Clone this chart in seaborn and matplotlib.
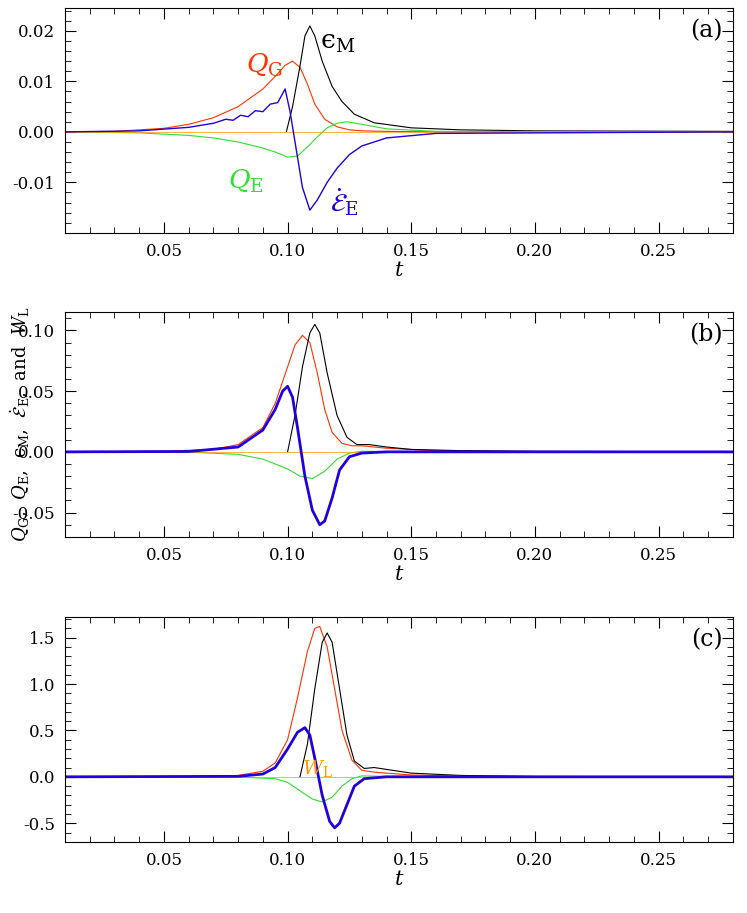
import numpy as np
import pandas as pd
import seaborn as sns
import matplotlib.pyplot as plt
from matplotlib.ticker import AutoMinorLocator

# ---- panel (a) ----
a_t_qg = [0.01, 0.03, 0.05, 0.06, 0.07, 0.08, 0.09, 0.095, 0.099, 0.102, 0.105, 0.108, 0.111, 0.115, 0.12, 0.125, 0.13, 0.14, 0.16, 0.28]
a_qg = [0, 0.0001, 0.0007, 0.0015, 0.0028, 0.005, 0.0085, 0.011, 0.0132, 0.014, 0.0128, 0.0095, 0.0055, 0.0025, 0.001, 0.0004, 0.0002, 0.0001, 0, 0]
a_t_em = [0.0995, 0.102, 0.105, 0.107, 0.109, 0.111, 0.114, 0.118, 0.122, 0.127, 0.135, 0.15, 0.17, 0.2, 0.28]
a_em = [0, 0.005, 0.013, 0.019, 0.021, 0.019, 0.014, 0.009, 0.006, 0.0035, 0.0018, 0.0008, 0.0004, 0.0002, 0.0001]
a_t_qe = [0.01, 0.04, 0.06, 0.07, 0.08, 0.09, 0.095, 0.1, 0.104, 0.108, 0.112, 0.116, 0.12, 0.124, 0.13, 0.14, 0.16, 0.28]
a_qe = [0, -0.0002, -0.0007, -0.0012, -0.002, -0.0032, -0.004, -0.005, -0.0048, -0.003, -0.001, 0.0008, 0.0017, 0.002, 0.0015, 0.0006, 0.0001, 0]
a_t_ee = [0.01, 0.04, 0.06, 0.07, 0.075, 0.078, 0.081, 0.084, 0.087, 0.09, 0.093, 0.096, 0.099, 0.101, 0.103, 0.106, 0.109, 0.112, 0.116, 0.12, 0.125, 0.13, 0.14, 0.16, 0.28]
a_ee = [0, 0.0002, 0.0009, 0.0017, 0.0025, 0.0023, 0.0033, 0.003, 0.0042, 0.004, 0.0055, 0.0058, 0.0085, 0.004, -0.002, -0.011, -0.0155, -0.0135, -0.01, -0.0072, -0.0045, -0.0028, -0.0012, -0.0003, 0]

# ---- panel (b) ----
b_t_qg = [0.01, 0.05, 0.07, 0.08, 0.09, 0.095, 0.1, 0.103, 0.106, 0.109, 0.112, 0.115, 0.118, 0.122, 0.126, 0.13, 0.135, 0.14, 0.16, 0.2, 0.28]
b_qg = [0, 0.0005, 0.002, 0.006, 0.02, 0.04, 0.07, 0.088, 0.096, 0.09, 0.065, 0.035, 0.016, 0.007, 0.005, 0.005, 0.004, 0.003, 0.001, 0.0003, 0]
b_t_em = [0.1, 0.103, 0.106, 0.109, 0.111, 0.113, 0.116, 0.12, 0.124, 0.128, 0.133, 0.14, 0.15, 0.17, 0.2, 0.28]
b_em = [0, 0.03, 0.07, 0.098, 0.105, 0.098, 0.065, 0.03, 0.012, 0.006, 0.006, 0.004, 0.002, 0.001, 0.0004, 0.0001]
b_t_qe = [0.01, 0.06, 0.08, 0.09, 0.1, 0.105, 0.11, 0.115, 0.12, 0.125, 0.13, 0.14, 0.28]
b_qe = [0, -0.0003, -0.002, -0.006, -0.014, -0.02, -0.022, -0.016, -0.006, -0.001, 0.0005, 0.0002, 0]
b_t_ee = [0.01, 0.06, 0.08, 0.09, 0.095, 0.098, 0.1, 0.102, 0.104, 0.107, 0.11, 0.113, 0.115, 0.118, 0.121, 0.125, 0.13, 0.14, 0.28]
b_ee = [0, 0.0003, 0.004, 0.018, 0.035, 0.05, 0.054, 0.045, 0.02, -0.02, -0.048, -0.06, -0.057, -0.038, -0.015, -0.004, -0.001, 0, 0]

# ---- panel (c) ----
c_t_qg = [0.01, 0.06, 0.08, 0.09, 0.095, 0.1, 0.104, 0.108, 0.111, 0.113, 0.116, 0.119, 0.122, 0.126, 0.13, 0.135, 0.14, 0.15, 0.17, 0.2, 0.28]
c_qg = [0, 0.002, 0.015, 0.06, 0.15, 0.4, 0.85, 1.35, 1.6, 1.62, 1.4, 0.95, 0.5, 0.18, 0.07, 0.05, 0.04, 0.02, 0.008, 0.002, 0]
c_t_em = [0.105, 0.108, 0.111, 0.114, 0.116, 0.118, 0.121, 0.124, 0.127, 0.131, 0.135, 0.14, 0.15, 0.17, 0.2, 0.28]
c_em = [0, 0.35, 0.95, 1.45, 1.55, 1.45, 0.95, 0.45, 0.17, 0.09, 0.1, 0.08, 0.04, 0.015, 0.004, 0]
c_t_qe = [0.01, 0.08, 0.095, 0.1, 0.105, 0.11, 0.114, 0.118, 0.122, 0.126, 0.13, 0.14, 0.28]
c_qe = [0, -0.003, -0.02, -0.06, -0.15, -0.24, -0.27, -0.22, -0.1, -0.02, 0.01, 0.005, 0]
c_t_ee = [0.01, 0.08, 0.09, 0.095, 0.1, 0.104, 0.107, 0.109, 0.111, 0.114, 0.117, 0.119, 0.121, 0.124, 0.127, 0.131, 0.14, 0.28]
c_ee = [0, 0.005, 0.03, 0.1, 0.3, 0.48, 0.53, 0.45, 0.2, -0.2, -0.48, -0.55, -0.5, -0.3, -0.1, -0.02, 0, 0]
c_t_wl = [0.01, 0.28]
c_wl = [0, 0]

RED, BLACK, GREEN, BLUE, ORANGE = "#ff3300", "black", "#33dd33", "#2200dd", "#ff9900"

plt.rcParams["font.family"] = "DejaVu Serif"
plt.rcParams["mathtext.fontset"] = "dejavuserif"
fig = plt.figure(figsize=(7.47, 9.13), dpi=100)
boxes = [[0.087, 0.745, 0.894, 0.246], [0.087, 0.412, 0.894, 0.246], [0.087, 0.078, 0.894, 0.246]]
axes = [fig.add_axes(b) for b in boxes]

def draw(ax, series, ylim, yticks, fmt, label):
    for t, y, c, lw in series:
        sns.lineplot(x=t, y=y, color=c, lw=lw, ax=ax, estimator=None, sort=False)
    ax.set_xlim(0.01, 0.28)
    ax.set_ylim(*ylim)
    ax.set_xticks([0.05, 0.10, 0.15, 0.20, 0.25])
    ax.set_xticklabels(["0.05", "0.10", "0.15", "0.20", "0.25"])
    ax.set_yticks(yticks)
    ax.set_yticklabels([fmt.format(v) for v in yticks])
    ax.xaxis.set_minor_locator(AutoMinorLocator(5))
    ax.yaxis.set_minor_locator(AutoMinorLocator(5))
    ax.tick_params(which="both", direction="in", top=True, right=True, labelsize=12)
    ax.tick_params(which="major", length=8, pad=7)
    ax.tick_params(which="minor", length=4)
    ax.set_xlabel("$t$", fontsize=15, labelpad=1)
    ax.text(0.985, 0.95, label, transform=ax.transAxes, ha="right", va="top", fontsize=17)

draw(axes[0], [(a_t_qg, a_qg, RED, 0.8), (a_t_em, a_em, BLACK, 0.8), (a_t_qe, a_qe, GREEN, 0.8),
               (c_t_wl, c_wl, ORANGE, 0.5), (a_t_ee, a_ee, BLUE, 1.0)],
     (-0.02, 0.0245), [-0.01, 0.0, 0.01, 0.02], "{:.2f}", "(a)")
draw(axes[1], [(b_t_qg, b_qg, RED, 0.8), (b_t_em, b_em, BLACK, 0.8), (b_t_qe, b_qe, GREEN, 0.8),
               (c_t_wl, c_wl, ORANGE, 0.5), (b_t_ee, b_ee, BLUE, 2.0)],
     (-0.07, 0.115), [-0.05, 0.0, 0.05, 0.10], "{:.2f}", "(b)")
draw(axes[2], [(c_t_qg, c_qg, RED, 0.8), (c_t_em, c_em, BLACK, 0.8), (c_t_qe, c_qe, GREEN, 0.8),
               (c_t_wl, c_wl, ORANGE, 0.5), (c_t_ee, c_ee, BLUE, 2.0)],
     (-0.7, 1.72), [-0.5, 0.0, 0.5, 1.0, 1.5], "{:.1f}", "(c)")

ax = axes[0]
ax.text(0.083, 0.0118, "$Q_{\\rm G}$", color=RED, fontsize=19)
ax.text(0.113, 0.0165, "ϵ$_{\\rm M}$", color=BLACK, fontsize=19)
ax.text(0.076, -0.0112, "$Q_{\\rm E}$", color=GREEN, fontsize=19)
ax.text(0.117, -0.0158, "$\\dot{\\mathcal{E}}_{\\rm E}$", color=BLUE, fontsize=19)
axes[2].text(0.106, 0.03, "$W_{\\rm L}$", color=ORANGE, fontsize=14)

fig.text(0.027, 0.535, "$Q_{\\rm G}$,  $Q_{\\rm E}$,  ϵ$_{\\rm M}$,  $\\dot{\\mathcal{E}}_{\\rm E}$,  and  $W_{\\rm L}$",
         rotation=90, ha="center", va="center", fontsize=13)

fig.savefig("out.png", dpi=100)
